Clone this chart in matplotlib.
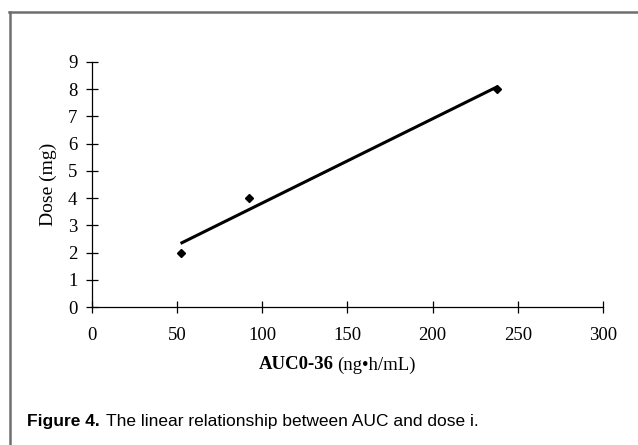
import matplotlib.pyplot as plt
from matplotlib.lines import Line2D
import numpy as np

auc = [52, 92, 238]
dose = [2, 4, 8]
xticks = [0, 50, 100, 150, 200, 250, 300]
yticks = list(range(10))

# trend line from the points (least squares)
k, b = np.polyfit(auc, dose, 1)
xfit = np.array([min(auc), max(auc)])

serif = ['Liberation Serif', 'DejaVu Serif']
sans = ['Liberation Sans', 'DejaVu Sans']

fig = plt.figure(figsize=(6.38, 4.45), dpi=100)
ax = fig.add_axes([0.1442, 0.3101, 0.8009, 0.5506])

ax.plot(xfit, k*xfit + b, color='black', lw=2.2, solid_capstyle='butt')
ax.plot(auc, dose, 'D', color='black', ms=4, ls='none')

ax.set_xlim(0, 300)
ax.set_ylim(0, 9)
ax.set_xticks(xticks)
ax.set_yticks(yticks)
ax.spines['top'].set_visible(False)
ax.spines['right'].set_visible(False)
for s in ('left', 'bottom'):
    ax.spines[s].set_linewidth(0.9)
ax.tick_params(direction='inout', length=9, width=0.9, pad=6)
for lab in ax.get_xticklabels() + ax.get_yticklabels():
    lab.set_family(serif)
    lab.set_fontsize(13.5)
ax.tick_params(axis='x', pad=10)

ax.set_ylabel('Dose (mg)', family=serif, fontsize=14, labelpad=8)

# x label: bold part, then the unit right after it
xl1 = fig.text(0.523, 0.18, 'AUC0-36', family=serif, fontsize=13.5, weight='bold', ha='right', va='center')
cap1 = fig.text(0.042, 0.052, 'Figure 4.', family=sans, fontsize=12.5, weight='bold', va='center')
fig.canvas.draw()
bx = xl1.get_window_extent()
fig.text((bx.x1 + 3) / fig.bbox.width, 0.18, '(ng\u2022h/mL)', family=serif,
         fontsize=13.5, ha='left', va='center')

# caption
bb = cap1.get_window_extent()
fig.text((bb.x1 + 6) / fig.bbox.width, 0.052, 'The linear relationship between AUC and dose i.',
         family=sans, fontsize=12.5, va='center')

# frame around the figure
fig.add_artist(Line2D([0.015, 0.015], [0, 0.972], color='#6e6e6e', lw=1.8, transform=fig.transFigure))
fig.add_artist(Line2D([0.014, 1], [0.972, 0.972], color='#6e6e6e', lw=1.8, transform=fig.transFigure))

fig.savefig('out.png', dpi=100)
